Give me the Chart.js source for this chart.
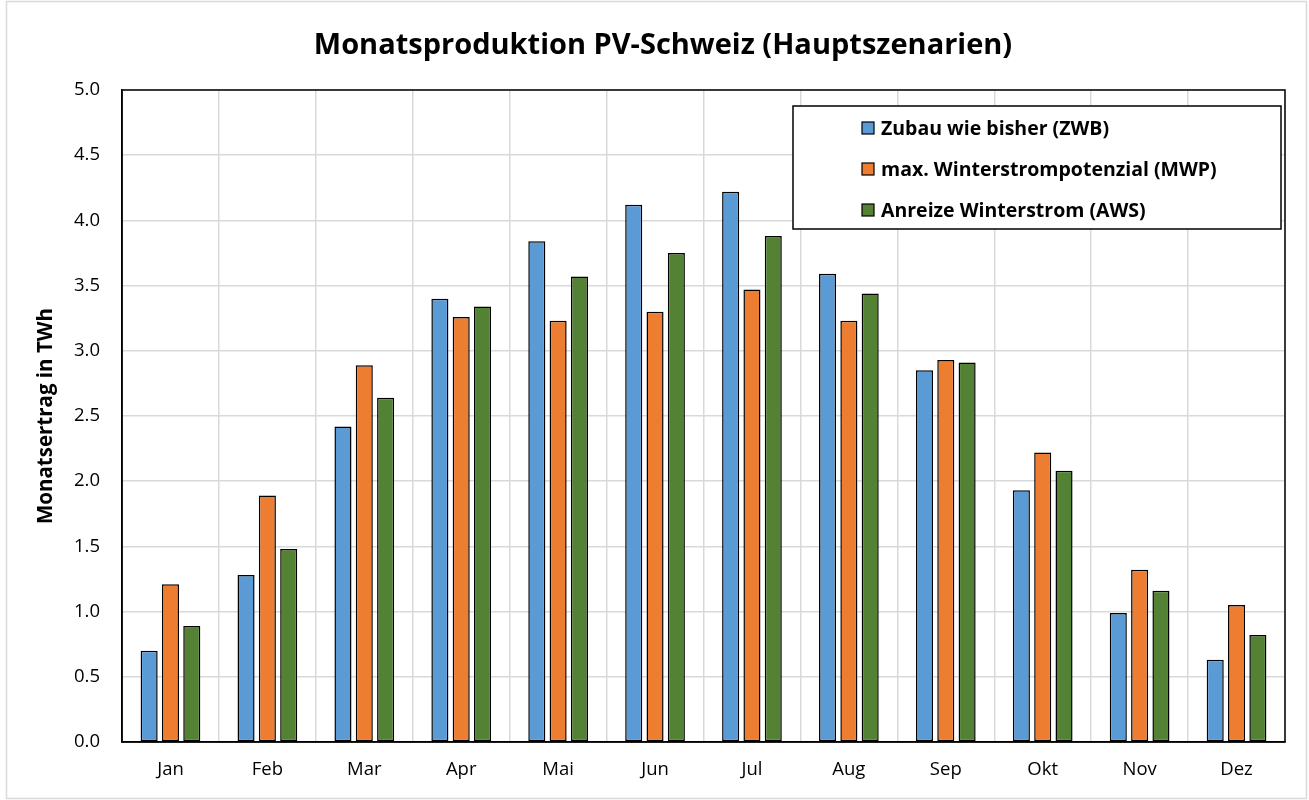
<!DOCTYPE html>
<html>
<head>
<meta charset="utf-8">
<script src="https://cdn.jsdelivr.net/npm/chart.js@4/dist/chart.umd.min.js"></script>
<style>
  html, body { margin: 0; padding: 0; background: #fff; }
  #wrap { width: 1309px; height: 800px; position: relative; }
</style>
</head>
<body>
<div id="wrap"><canvas id="chart" width="1309" height="800"></canvas></div>
<script>
const monate = ["Jan", "Feb", "Mar", "Apr", "Mai", "Jun", "Jul", "Aug", "Sep", "Okt", "Nov", "Dez"];
const zwb = [0.70, 1.28, 2.42, 3.40, 3.84, 4.12, 4.22, 3.59, 2.85, 1.93, 0.99, 0.63];
const mwp = [1.21, 1.89, 2.89, 3.26, 3.23, 3.30, 3.47, 3.23, 2.93, 2.22, 1.32, 1.05];
const aws = [0.89, 1.48, 2.64, 3.34, 3.57, 3.75, 3.88, 3.44, 2.91, 2.08, 1.16, 0.82];
const serienNamen = ["Zubau wie bisher (ZWB)", "max. Winterstrompotenzial (MWP)", "Anreize Winterstrom (AWS)"];
const farben = ["#5B9BD5", "#ED7D31", "#548235"];
const titel = "Monatsproduktion PV-Schweiz (Hauptszenarien)";

const schrift = "'Open Sans', 'Liberation Sans', sans-serif";

// Rahmen ums Diagramm, Titel, Plotrahmen und Legende im Plotbereich
const rahmenPlugin = {
  id: "rahmen",
  beforeDraw(chart) {
    const ctx = chart.ctx;
    ctx.save();
    ctx.fillStyle = "#fff";
    ctx.fillRect(0, 0, chart.width, chart.height);
    ctx.strokeStyle = "#d9d9d9";
    ctx.lineWidth = 1.5;
    ctx.strokeRect(6.5, 1.5, chart.width - 9, chart.height - 3);

    ctx.fillStyle = "#000";
    ctx.font = "bold 29px " + schrift;
    ctx.textAlign = "center";
    ctx.textBaseline = "middle";
    ctx.fillText(titel, 663, 46);
    ctx.restore();
  },
  afterDraw(chart) {
    const ctx = chart.ctx;
    const a = chart.chartArea;
    ctx.save();
    ctx.strokeStyle = "#000";
    ctx.lineWidth = 1.5;
    ctx.strokeRect(a.left, a.top, a.right - a.left, a.bottom - a.top);

    // Legende
    const lx = 793, ly = 106, lw = 488, lh = 123;
    ctx.fillStyle = "#fff";
    ctx.fillRect(lx, ly, lw, lh);
    ctx.strokeRect(lx, ly, lw, lh);
    ctx.font = "bold 19.5px " + schrift;
    ctx.textBaseline = "middle";
    ctx.textAlign = "left";
    chart.data.datasets.forEach((ds, i) => {
      const y = 128 + i * 41;
      ctx.fillStyle = ds.backgroundColor;
      ctx.fillRect(862, y - 6, 12, 12);
      ctx.lineWidth = 1.2;
      ctx.strokeStyle = "#000";
      ctx.strokeRect(862, y - 6, 12, 12);
      ctx.fillStyle = "#000";
      ctx.fillText(ds.label, 881, y + 1);
    });
    ctx.restore();
  },
};

const ctx = document.getElementById("chart").getContext("2d");
const chart = new Chart(ctx, {
  type: "bar",
  data: {
    labels: monate,
    datasets: [zwb, mwp, aws].map((werte, i) => ({
      label: serienNamen[i],
      data: werte,
      backgroundColor: farben[i],
      borderColor: "#000",
      borderWidth: 1.5,
      borderSkipped: false,
      categoryPercentage: 0.66,
      barPercentage: 0.8,
    })),
  },
  options: {
    responsive: false,
    animation: false,
    layout: { padding: { left: 0, right: 24, top: 90, bottom: 0 } },
    plugins: {
      legend: { display: false },
      tooltip: { enabled: false },
      title: { display: false },
    },
    scales: {
      x: {
        grid: { color: "#d9d9d9", lineWidth: 1.5, offset: true, drawTicks: false },
        border: { color: "#000", width: 1.5 },
        ticks: { color: "#000", font: { family: schrift, size: 18.5 }, padding: 17 },
        afterFit(scale) { scale.height = 58; },
      },
      y: {
        min: 0,
        max: 5,
        grid: { color: "#d9d9d9", lineWidth: 1.5, drawTicks: false },
        border: { color: "#000", width: 1.5 },
        ticks: {
          stepSize: 0.5,
          color: "#000",
          font: { family: schrift, size: 18.5 },
          padding: 22,
          callback: (v) => v.toFixed(1),
        },
        title: {
          display: true,
          text: "Monatsertrag in TWh",
          color: "#000",
          font: { family: schrift, size: 20.5, weight: "bold" },
          padding: { top: 34, bottom: 4 },
        },
        afterFit(scale) { scale.width = 122; },
      },
    },
  },
  plugins: [rahmenPlugin],
});
</script>
</body>
</html>
